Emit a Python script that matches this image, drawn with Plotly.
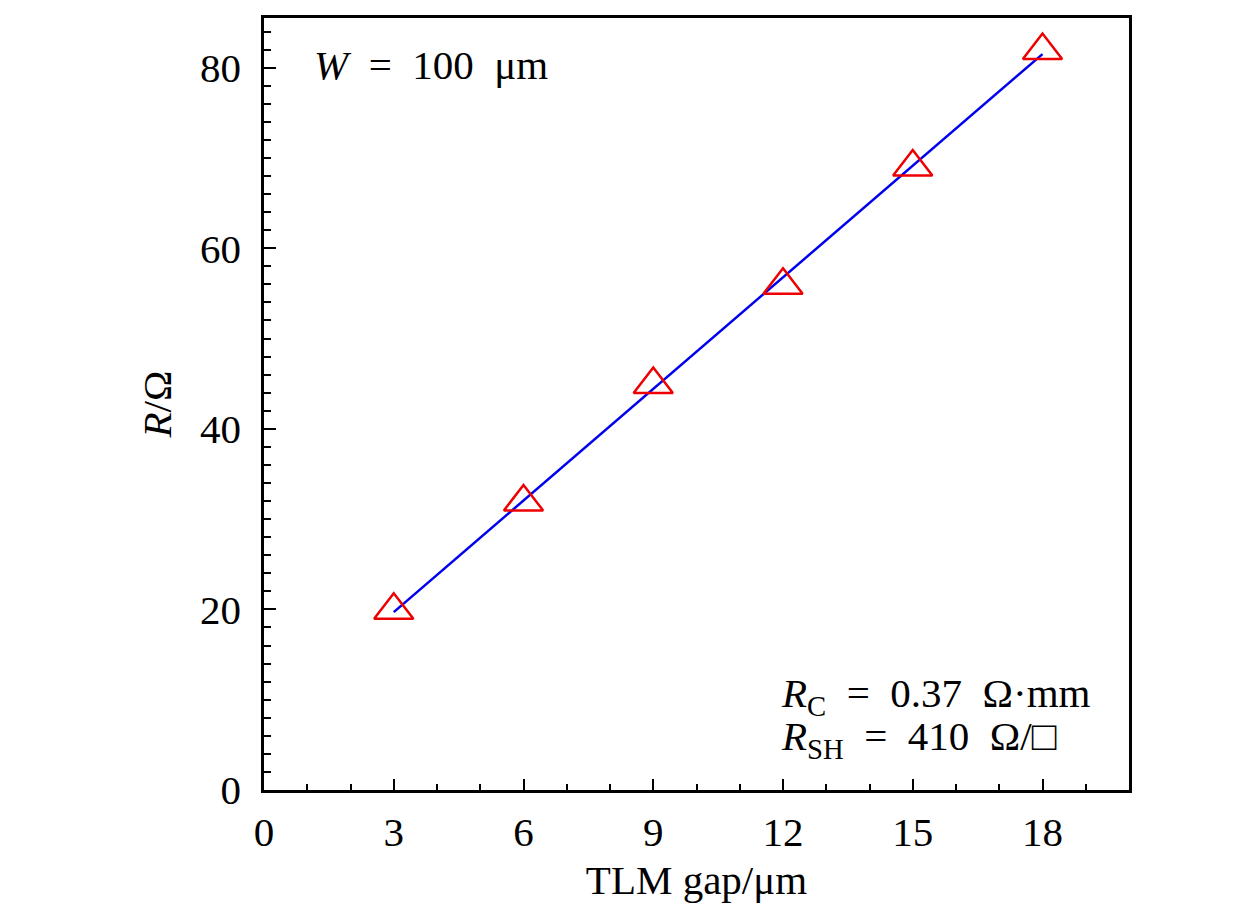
import plotly.graph_objects as go

# TLM measurement: total resistance vs. gap spacing
gap = [3, 6, 9, 12, 15, 18]
resistance = [19.9, 31.9, 44.9, 55.9, 69.0, 81.9]

# linear fit endpoints
fit_gap = [3, 18]
fit_res = [19.7, 81.5]

x_ticks = [0, 3, 6, 9, 12, 15, 18]
y_ticks = [0, 20, 40, 60, 80]

FONT = "Liberation Serif"
FS = 41

fig = go.Figure()

fig.add_trace(go.Scatter(
    x=fit_gap, y=fit_res, mode="lines",
    line=dict(color="#0000ee", width=2.5),
    showlegend=False, hoverinfo="skip",
))
fig.add_trace(go.Scatter(
    x=gap, y=resistance, mode="markers",
    marker=dict(symbol="triangle-up-open", size=34, color="#ee0000",
                line=dict(color="#ee0000", width=2.5)),
    showlegend=False,
))

axis_common = dict(
    showline=True, linecolor="black", linewidth=2.5, mirror=True,
    ticks="inside", tickcolor="black", tickwidth=2,
    showgrid=False, zeroline=False,
    tickfont=dict(family=FONT, size=FS, color="black"),
)

fig.update_xaxes(
    range=[0, 20], tickvals=x_ticks, ticklen=11,
    minor=dict(dtick=1, ticks="inside", ticklen=6, tickwidth=2, tickcolor="black"),
    title=dict(text="TLM gap/μm", font=dict(family=FONT, size=FS, color="black"), standoff=12),
    ticklabelstandoff=4,
    **axis_common,
)
fig.update_yaxes(
    range=[0, 85.5], tickvals=y_ticks, ticklen=12,
    minor=dict(dtick=2, ticks="inside", ticklen=7, tickwidth=2, tickcolor="black"),
    title=dict(text="<i>R</i>/Ω", font=dict(family=FONT, size=FS, color="black"), standoff=16),
    ticklabelstandoff=12,
    **axis_common,
)

fig.add_annotation(
    x=1.1, y=80.3, xref="x", yref="y", xanchor="left", yanchor="middle",
    text="<i>W</i>&nbsp;&nbsp;=&nbsp;&nbsp;100&nbsp;&nbsp;μm", showarrow=False,
    font=dict(family=FONT, size=FS, color="black"),
)
fig.add_annotation(
    x=11.9, y=10.4, xref="x", yref="y", xanchor="left", yanchor="middle",
    text="<i>R</i><sub>C</sub>&nbsp;&nbsp;=&nbsp;&nbsp;0.37&nbsp;&nbsp;Ω·mm", showarrow=False,
    font=dict(family=FONT, size=FS, color="black"),
)
fig.add_annotation(
    x=11.9, y=5.6, xref="x", yref="y", xanchor="left", yanchor="middle",
    text="<i>R</i><sub>SH</sub>&nbsp;&nbsp;=&nbsp;&nbsp;410&nbsp;&nbsp;Ω/□", showarrow=False,
    font=dict(family=FONT, size=FS, color="black"),
)

# page adds a small offset; pull the plot area back to match
fig.update_layout(
    width=1260, height=913,
    margin=dict(l=256, r=139, t=7, b=131),
    paper_bgcolor="white", plot_bgcolor="white",
)

fig.write_html("out.html")
